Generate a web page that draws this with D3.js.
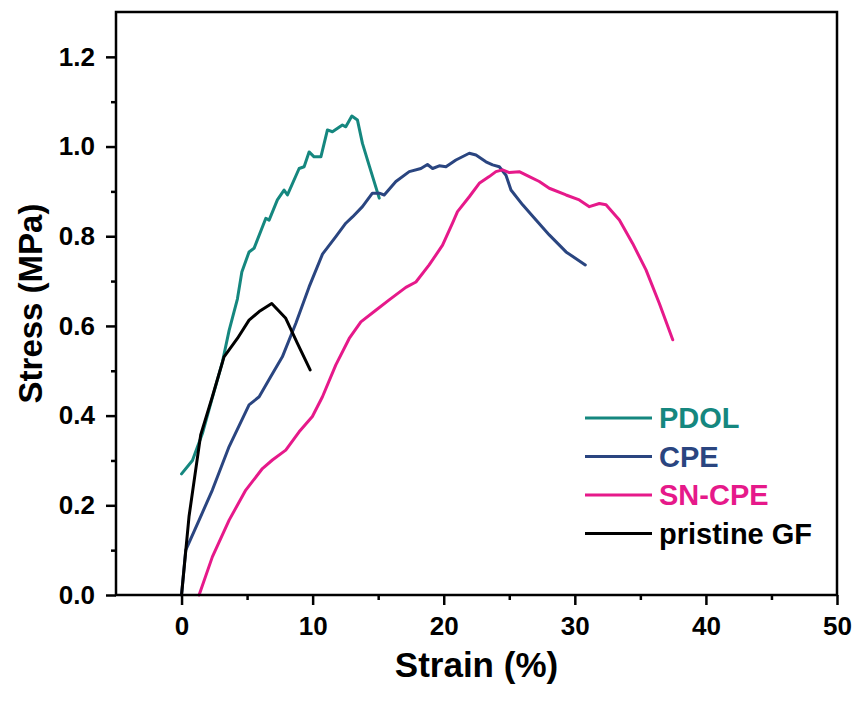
<!DOCTYPE html>
<html>
<head>
<meta charset="utf-8">
<script src="https://cdn.jsdelivr.net/npm/d3@7"></script>
<style>
  body { margin: 0; background: #fff; }
  text { font-family: "Liberation Sans", Arial, sans-serif; font-weight: bold; }
</style>
</head>
<body>
<svg id="canvas" width="860" height="707"></svg>
<script>
const width = 860
const height = 707
const margin = {top: 12, right: 23, bottom: 112, left: 116}

// series: [strain %, stress MPa]
const pdol = [[0,0.27],[0.83,0.30],[1.59,0.36],[2.35,0.44],[3.12,0.52],[3.63,0.59],[4.26,0.66],[4.6,0.72],
  [5.15,0.765],[5.53,0.773],[6.43,0.84],[6.68,0.836],[7.31,0.881],[7.82,0.903],[8.08,0.892],[8.97,0.951],
  [9.35,0.955],[9.73,0.988],[10.11,0.977],[10.63,0.977],[11.13,1.037],[11.51,1.033],[12.27,1.048],
  [12.53,1.044],[12.99,1.068],[13.42,1.059],[13.8,1.007],[14.31,0.958],[15.08,0.885]]

const cpe = [[0,0.0],[0.32,0.10],[1.34,0.167],[2.35,0.234],[3.63,0.331],[5.15,0.424],[5.92,0.442],
  [6.81,0.487],[7.69,0.531],[8.72,0.606],[9.73,0.687],[10.75,0.76],[11.77,0.799],[12.53,0.829],
  [13.04,0.843],[13.8,0.866],[14.56,0.896],[15.08,0.896],[15.46,0.892],[16.35,0.922],[17.37,0.944],
  [18.26,0.951],[18.76,0.96],[19.15,0.951],[19.66,0.957],[20.17,0.955],[20.93,0.97],[21.95,0.985],
  [22.46,0.981],[23.22,0.966],[23.73,0.959],[24.24,0.955],[24.75,0.936],[25.13,0.903],[26.02,0.87],
  [27.04,0.836],[28.05,0.803],[29.33,0.765],[30.8,0.736]]

const sncpe = [[1.34,0.0],[2.35,0.085],[3.63,0.167],[4.9,0.234],[6.17,0.282],[6.93,0.301],[7.95,0.323],
  [8.97,0.364],[9.98,0.398],[10.75,0.442],[11.77,0.513],[12.79,0.572],[13.68,0.609],[14.82,0.635],
  [15.84,0.658],[17.11,0.686],[17.88,0.698],[18.89,0.736],[19.91,0.78],[20.67,0.829],[21.05,0.855],
  [21.95,0.888],[22.71,0.918],[23.47,0.933],[23.98,0.944],[24.49,0.948],[25.0,0.942],[25.76,0.944],
  [26.53,0.933],[27.29,0.922],[28.05,0.907],[29.33,0.892],[30.34,0.881],[31.11,0.866],[31.87,0.873],
  [32.38,0.87],[33.4,0.836],[34.41,0.784],[35.43,0.725],[36.45,0.65],[37.47,0.569]]

const pristine = [[0,0.0],[0.57,0.175],[1.46,0.357],[2.35,0.442],[3.24,0.531],[4.26,0.572],[5.15,0.613],
  [5.92,0.632],[6.88,0.65],[7.95,0.617],[8.84,0.561],[9.81,0.502]]

const seriesNames = ["PDOL", "CPE", "SN-CPE", "pristine GF"]
const seriesData = [pdol, cpe, sncpe, pristine]
const colors = ["#15877f", "#2a4580", "#e6198a", "#000000"]

const xMajor = [0, 10, 20, 30, 40, 50]
const xMinor = [5, 15, 25, 35, 45]
const yMajor = [0, 0.2, 0.4, 0.6, 0.8, 1.0, 1.2]
const yMinor = [0.1, 0.3, 0.5, 0.7, 0.9, 1.1]

const canvas = d3.select("#canvas")

const x = d3.scaleLinear().domain([-5, 50]).range([margin.left, width - margin.right])
const y = d3.scaleLinear().domain([0, 1.3]).range([height - margin.bottom, margin.top])

// curves
const line = d3.line().x(d => x(d[0])).y(d => y(d[1]))
seriesData.forEach((s, i) => {
    canvas.append("path")
        .attr("d", line(s))
        .attr("fill", "none")
        .attr("stroke", colors[i])
        .attr("stroke-width", 3)
        .attr("stroke-linejoin", "round")
        .attr("stroke-linecap", "round")
})

// axes
const xAxis = canvas.append("g")
    .attr("transform", `translate(0,${height - margin.bottom})`)
    .call(d3.axisBottom(x).tickValues(xMajor).tickSize(10).tickPadding(12).tickFormat(d3.format("d")))
xAxis.append("g").call(d3.axisBottom(x).tickValues(xMinor).tickSize(5).tickFormat(""))

const yAxis = canvas.append("g")
    .attr("transform", `translate(${margin.left},0)`)
    .call(d3.axisLeft(y).tickValues(yMajor).tickSize(10).tickPadding(11).tickFormat(d3.format(".1f")))
yAxis.append("g").call(d3.axisLeft(y).tickValues(yMinor).tickSize(5).tickFormat(""))

canvas.selectAll(".domain").remove()
canvas.selectAll(".tick line").attr("stroke", "#000").attr("stroke-width", 2.5)
canvas.selectAll(".tick text").attr("fill", "#000").style("font-size", "26px")
    .style("font-family", "'Liberation Sans', Arial, sans-serif").style("font-weight", "bold")

// frame
canvas.append("rect")
    .attr("x", margin.left).attr("y", margin.top)
    .attr("width", width - margin.left - margin.right)
    .attr("height", height - margin.top - margin.bottom)
    .attr("fill", "none").attr("stroke", "#000").attr("stroke-width", 2.5)

// titles
canvas.append("text")
    .attr("x", (x(-5) + x(50)) / 2).attr("y", 677)
    .attr("text-anchor", "middle").style("font-size", "35px")
    .text("Strain (%)")

canvas.append("text")
    .attr("transform", `translate(42,${(y(0) + y(1.3)) / 2}) rotate(-90)`)
    .attr("text-anchor", "middle").style("font-size", "33px")
    .text("Stress (MPa)")

// legend
const legend = canvas.append("g")
seriesNames.forEach((name, i) => {
    const ly = 418 + i * 38.5
    legend.append("line")
        .attr("x1", 585).attr("x2", 652).attr("y1", ly).attr("y2", ly)
        .attr("stroke", colors[i]).attr("stroke-width", 3)
    legend.append("text")
        .attr("x", 659).attr("y", ly).attr("dy", "0.36em")
        .attr("fill", colors[i]).style("font-size", "29px")
        .text(name)
})
</script>
</body>
</html>
